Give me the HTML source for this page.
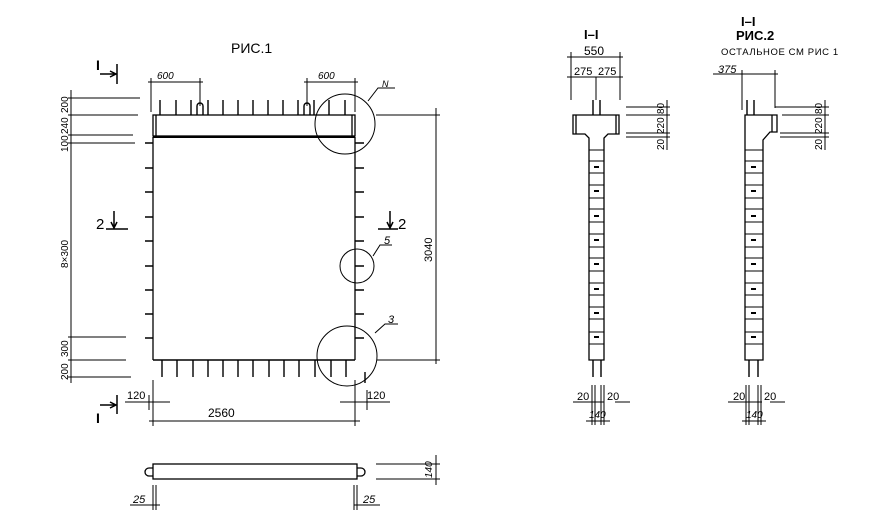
<!DOCTYPE html>
<html><head><meta charset="utf-8"><style>
html,body{margin:0;padding:0;background:#fff;}
svg{display:block;}
text{font-family:"Liberation Sans",sans-serif;fill:#000;}
</style></head><body>
<svg width="877" height="530" viewBox="0 0 877 530" xmlns="http://www.w3.org/2000/svg">
<g stroke="#000" stroke-width="1.3" fill="none">
<rect x="153" y="115" width="202" height="21"/>
<line x1="156" y1="115" x2="156" y2="136"/>
<line x1="352" y1="115" x2="352" y2="136"/>
<line x1="153" y1="137" x2="355" y2="137" stroke-width="2"/>
<line x1="153" y1="137" x2="153" y2="360"/>
<line x1="355" y1="137" x2="355" y2="360"/>
<line x1="153" y1="360" x2="355" y2="360" stroke-width="1.6"/>
<g stroke-width="1.5">
<path d="M145 143H153M145 168H153M145 192H153M145 217H153M145 241H153M145 266H153M145 290H153M145 314H153M145 338H153"/>
<path d="M355 143H364M355 168H364M355 192H364M355 217H364M355 241H364M355 266H364M355 290H364M355 314H364M355 338H364"/>
</g>
<g stroke-width="1.4">
<path d="M160 100V115M176 100V115M191 100V115M208 100V115M223 100V115M238 100V115M253 100V115M268 100V115M283 100V115M298 100V115M314 100V115M329 100V115M345 100V115"/>
<path d="M197 115V106a3 3 0 0 1 6 0V115"/>
<path d="M304 115V106a3 3 0 0 1 6 0V115"/>
<path d="M162 360V377M177 360V377M193 360V377M208 360V377M223 360V377M238 360V377M253 360V377M269 360V377M284 360V377M299 360V377M315 360V377M331 360V377M346 360V377M365 372V383"/>
</g>
<circle cx="345" cy="124" r="30" stroke-width="1"/>
<circle cx="357" cy="266" r="17" stroke-width="1"/>
<circle cx="347" cy="356" r="30" stroke-width="1"/>
<path d="M368 101L378 88H395" stroke-width="1"/>
<path d="M373 256L380 245H392" stroke-width="1"/>
<path d="M375 333L385 324H398" stroke-width="1"/>
<g stroke-width="1">
<line x1="71" y1="90" x2="71" y2="383"/>
<path d="M68 98H140M68 115H138M68 135H133M68 143H135M68 337H126M68 360H126M68 377H131"/>
<path d="M148 82H203M151 78V112M200 78V106M304 82H358M307 78V106M355 78V112"/>
<path d="M376 115H440M436 108V364M377 360H440"/>
<path d="M149 421H360M153 380V426M355 380V426M125 402H170M340 402H390M149 395V410M367 390V410"/>
</g>
<!-- section marks -->
<g stroke-width="1.5">
<path d="M100 74H116M117 64V84M110 71L116 74L110 77"/>
<path d="M100 405H116M117 395V414M110 402L116 405L110 408"/>
<path d="M106 229H128M114 211V228M111 222L114 228L117 222"/>
<path d="M378 229H398M390 211V228M387 222L390 228L393 222"/>
</g>
<rect x="153" y="464" width="204" height="15"/>
<path d="M153 468h-4a4 4 0 0 0 0 8h4M357 468h4a4 4 0 0 1 0 8h-4"/>
<g stroke-width="1">
<path d="M376 464H440M376 479H440M436 455V485M130 505H160M153 485V510M156 485V510M354 485V510M357 485V510M354 505H380"/>
</g>
<!-- section 1-1 -->
<path d="M573 115H619V134H608L604 138V360H589V138L585 134H573Z"/>
<line x1="576" y1="115" x2="576" y2="134"/>
<line x1="616" y1="115" x2="616" y2="134"/>
<path d="M593 100V115M600 100V115M593 360V377M601 360V377" stroke-width="1.4"/>
<g stroke-width="1">
<path d="M589 150H604M589 161H604M589 173H604M589 185H604M589 198H604M589 209H604M589 222H604M589 234H604M589 247H604M589 258H604M589 271H604M589 283H604M589 295H604M589 307H604M589 319H604M589 332H604M589 344H604"/>
<path d="M567 57H623M571 52V100M620 52V100M567 77H623M596 77V100"/>
<path d="M626 107H670M626 115H670M626 133H670M626 137H670M667 100V150"/>
<path d="M573 402H604M615 402H630M592 385V425M595 385V425M601 385V425M604 385V425M586 421H610"/>
</g>
<g stroke-width="2"><path d="M594 167H599M594 191H599M594 216H599M594 240H599M594 264H599M594 289H599M594 313H599M594 337H599"/></g>
<!-- section 2 -->
<path d="M745 115H777V132H770L763 140V360H745Z"/>
<line x1="772" y1="115" x2="772" y2="132"/>
<path d="M747 100V115M754 100V115M749 360V377M758 360V377" stroke-width="1.4"/>
<g stroke-width="1">
<path d="M745 150H763M745 161H763M745 173H763M745 185H763M745 198H763M745 209H763M745 222H763M745 234H763M745 247H763M745 258H763M745 271H763M745 283H763M745 295H763M745 307H763M745 319H763M745 332H763M745 344H763"/>
<path d="M713 74H778M742 70V110M775 70V108"/>
<path d="M775 107H829M782 115H829M780 133H829M780 137H829M825 100V150"/>
<path d="M728 402H762M770 402H785M746 385V425M749 385V425M758 385V425M761 385V425M742 421H766"/>
</g>
<g stroke-width="2"><path d="M751 167H756M751 191H756M751 216H756M751 240H756M751 264H756M751 289H756M751 313H756M751 337H756"/></g>
</g>
<g font-size="12">
<text x="231" y="53" font-size="14">РИС.1</text>
<text x="157" y="79" font-style="italic" font-size="10">600</text>
<text x="318" y="79" font-style="italic" font-size="10">600</text>
<text x="382" y="87" font-style="italic" font-size="9">N</text>
<text x="384" y="244" font-style="italic" font-size="11">5</text>
<text x="388" y="323" font-style="italic" font-size="11">3</text>
<text x="96" y="70" font-size="14" font-weight="bold">I</text>
<text x="96" y="423" font-size="14" font-weight="bold">I</text>
<text x="96" y="229" font-size="15">2</text>
<text x="398" y="229" font-size="15">2</text>
<text x="208" y="417">2560</text>
<text x="127" y="399" font-size="11">120</text>
<text x="367" y="399" font-size="11">120</text>
<text x="133" y="503" font-style="italic" font-size="11">25</text>
<text x="363" y="503" font-style="italic" font-size="11">25</text>
<text transform="translate(432,478) rotate(-90)" font-style="italic" font-size="10">140</text>
<text transform="translate(432,262) rotate(-90)" font-size="11">3040</text>
<g font-size="10">
<text transform="translate(68,113) rotate(-90)">200</text>
<text transform="translate(68,134) rotate(-90)">240</text>
<text transform="translate(68,152) rotate(-90)">100</text>
<text transform="translate(68,268) rotate(-90)">8×300</text>
<text transform="translate(68,357) rotate(-90)">300</text>
<text transform="translate(68,380) rotate(-90)">200</text>
</g>
<text x="584" y="39" font-size="13" font-weight="bold">I–I</text>
<text x="584" y="55" font-size="12">550</text>
<text x="574" y="75" font-size="11">275</text>
<text x="598" y="75" font-size="11">275</text>
<g font-size="10">
<text transform="translate(664,114) rotate(-90)">80</text>
<text transform="translate(664,134) rotate(-90)">220</text>
<text transform="translate(664,150) rotate(-90)">20</text>
<text transform="translate(822,114) rotate(-90)">80</text>
<text transform="translate(822,134) rotate(-90)">220</text>
<text transform="translate(822,150) rotate(-90)">20</text>
</g>
<text x="577" y="400" font-size="11">20</text>
<text x="607" y="400" font-size="11">20</text>
<text x="589" y="418" font-size="10" font-style="italic">140</text>
<text x="733" y="400" font-size="11">20</text>
<text x="764" y="400" font-size="11">20</text>
<text x="746" y="418" font-size="10" font-style="italic">140</text>
<text x="741" y="26" font-size="13" font-weight="bold">I–I</text>
<text x="736" y="40" font-size="13" font-weight="bold">РИС.2</text>
<text x="721" y="55" font-size="9.5" letter-spacing="0.6">ОСТАЛЬНОЕ СМ РИС 1</text>
<text x="718" y="73" font-size="11" font-style="italic">375</text>
</g>
</svg>
</body></html>
